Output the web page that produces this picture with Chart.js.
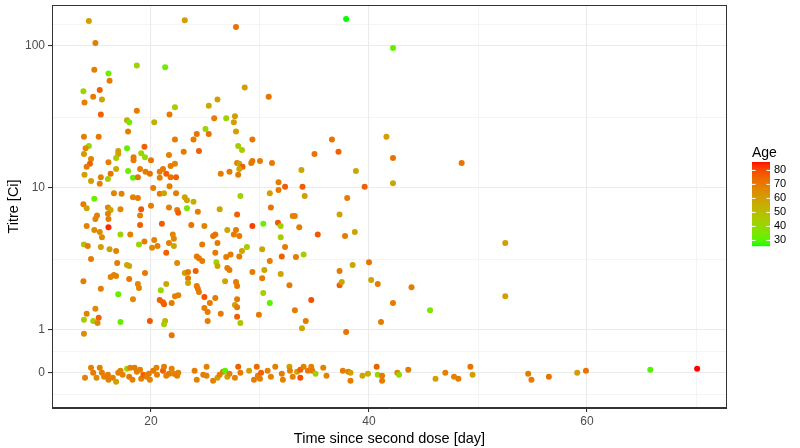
<!DOCTYPE html>
<html>
<head>
<meta charset="utf-8">
<script src="https://cdn.jsdelivr.net/npm/chart.js@4.4.1/dist/chart.umd.min.js"></script>
<style>
  html, body { margin: 0; padding: 0; background: #fff; }
  #wrap { width: 800px; height: 448px; }
</style>
</head>
<body>
<div id="wrap"><canvas id="c" width="800" height="448"></canvas></div>
<script>
// Titre vs days since second dose, points coloured by age

// samples with a measurable titre
const posDay = [
  14.3, 14.9, 23.1, 14.8, 16.1, 16.2, 18.7, 21.3, 13.8, 15.3, 14.7, 15.5, 13.9, 22.2, 15.4, 18.7, 21.7, 17.8, 18.0, 20.3, 17.9, 13.85, 15.2, 22.2,
  27.8, 28.6, 30.8, 25.3, 26.1, 25.8, 26.9, 27.7, 27.6, 27.8, 24.2, 25.0, 25.3, 29.3, 23.9,
  37.9, 42.2, 36.6, 41.6,
  14.3, 14.0, 17.8, 19.4, 17.0, 17.0, 13.85, 19.1, 19.45, 18.4, 18.4, 21.65, 23.0, 14.5, 20.0, 16.8, 16.1, 14.4, 14.1, 16.8,
  22.2, 21.8, 21.1, 20.8, 21.4, 17.9, 18.35, 18.8, 19.0, 19.5, 19.9, 16.3, 16.05, 15.4, 15.3, 14.5, 13.9, 20.8, 21.8, 22.3,
  20.2, 21.7, 22.3, 20.8, 21.2, 16.6, 17.3, 18.35, 18.8, 14.8, 13.8, 14.1, 16.05, 16.3, 16.05, 16.1, 17.2, 19.1, 20.0, 19.0,
  19.0, 21.65, 22.4, 22.5, 15.05, 14.9, 14.1, 14.8, 16.1, 17.2, 18.1, 15.3, 15.5, 21.0, 22.0, 22.1, 13.85, 14.2, 15.4, 18.9,
  19.4, 20.3, 20.6, 21.65,
  16.2, 16.8, 20.1, 21.4, 22.1, 14.5, 16.9, 17.8, 18.0, 19.45, 22.4, 23.1, 13.8, 16.3, 16.6, 16.8, 18.0, 18.8, 18.9, 15.4,
  20.9, 21.4, 17.0, 18.35, 20.8, 21.1, 21.2, 21.9, 22.2, 22.5, 14.9, 14.1, 13.85, 15.2, 14.7, 15.1, 17.2, 19.9, 21.3, 21.2,
  13.85, 21.9,
  24.4, 28.0, 28.35, 27.9, 28.1, 28.4, 28.1, 28.0, 26.4, 27.2, 29.2, 29.3, 30.0, 31.1, 35.0, 33.8, 31.7, 32.3, 33.9, 31.7,
  34.1, 30.9, 28.2, 23.1, 23.3, 23.3, 23.9, 24.3, 26.3, 27.9, 31.0, 33.0, 33.2, 23.7, 24.9, 29.3, 30.3, 31.65, 31.9, 33.6,
  27.0, 27.8, 27.6, 28.1, 25.9, 25.7, 31.9, 35.3, 24.7, 26.1, 28.8, 30.2, 32.3,
  25.9, 27.3, 28.1, 28.35, 34.0, 33.3, 32.0, 24.2, 24.4, 24.7, 26.0, 26.1, 26.9, 30.9, 23.4, 23.4, 23.4, 24.1, 27.0, 27.2,
  29.3, 30.4, 30.2, 31.9, 26.8, 27.8, 27.9, 32.7, 24.2, 24.3, 24.4, 30.3, 24.9, 25.9, 27.9, 25.4, 30.9, 34.7, 27.7, 27.9,
  24.9, 25.2, 26.4, 33.2, 27.9, 29.9, 34.2, 25.2, 28.2, 33.85,
  37.2, 42.2, 38.8, 42.2, 39.6, 38.0, 37.3, 37.8, 38.7,
  37.3, 38.5, 40.0, 37.3, 37.5, 40.2, 40.8, 43.9, 42.2, 45.6, 41.1, 37.9,
  48.5, 52.5, 52.5
];
const posTitre = [
  150, 105, 152, 68, 64, 57, 73, 71, 48, 49, 44, 42, 40, 37, 33, 35, 33, 30, 29, 29, 25, 23, 23, 22,
  136, 51, 44, 38, 42, 31, 31, 32, 29, 25, 24, 26, 24, 22, 22,
  155, 97, 22, 23,
  19.8, 19.1, 19.1, 19.5, 18.2, 17.4, 17.4, 17.6, 16.5, 16.5, 15.7, 17.1, 18.0, 16.0, 15.7, 16.3, 15.2, 14.8, 14.1, 13.6,
  14.8, 14.3, 13.6, 13.0, 12.6, 13.2, 11.8, 11.9, 13.6, 13.0, 12.6, 12.6, 11.6, 11.9, 10.7, 11.2, 12.4, 11.8, 11.9, 11.9,
  10.0, 10.3, 9.2, 9.1, 9.2, 9.2, 9.1, 8.6, 8.5, 8.4, 7.7, 7.2, 7.3, 7.0, 6.6, 6.05, 7.1, 7.1, 7.5, 6.4,
  5.5, 7.3, 7.0, 6.7, 6.4, 6.05, 5.4, 5.06, 5.3, 4.7, 4.7, 4.9, 4.5, 5.6, 4.7, 4.4, 4.0, 3.9, 3.85, 4.0,
  4.2, 4.3, 3.9, 4.1,
  3.7, 3.6, 3.8, 3.5, 3.9, 3.16, 2.97, 2.87, 2.83, 2.52, 2.97, 2.52, 2.21, 2.36, 2.44, 2.40, 2.29, 2.11, 1.98, 1.95,
  1.91, 2.11, 1.79, 1.65, 1.63, 1.57, 1.52, 1.55, 1.73, 1.76, 1.41, 1.30, 1.18, 1.22, 1.16, 1.12, 1.14, 1.16, 1.16, 1.10,
  0.94, 0.92,
  18.2, 19.8, 18.5, 15.0, 14.8, 14.1, 13.6, 12.4, 12.6, 13.0, 15.0, 15.5, 15.5, 15.0, 17.4, 13.4, 11.0, 10.2, 10.2, 9.7,
  8.8, 9.2, 8.8, 8.6, 8.2, 7.2, 8.0, 6.8, 7.1, 6.5, 7.3, 6.35, 6.35, 5.5, 5.4, 5.4, 5.6, 5.7, 5.4, 5.3,
  5.06, 5.06, 4.7, 4.6, 4.7, 4.6, 4.5, 4.7, 4.0, 4.1, 3.85, 3.7, 3.85,
  3.5, 3.4, 3.3, 3.6, 3.4, 3.27, 3.3, 3.3, 3.2, 3.06, 3.0, 2.83, 3.27, 3.06, 2.56, 2.32, 2.14, 2.6, 2.74, 2.65,
  2.56, 2.65, 2.32, 2.48, 2.21, 2.18, 2.04, 2.07, 2.04, 1.95, 1.85, 1.82, 1.71, 1.68, 1.65, 1.55, 1.55, 1.63, 1.50, 1.45,
  1.43, 1.34, 1.30, 1.38, 1.24, 1.28, 1.16, 1.16, 1.12, 1.03,
  18.0, 16.3, 13.2, 10.8, 10.2, 8.5, 6.5, 4.6, 4.9,
  2.6, 2.87, 3.0, 2.07, 2.18, 2.25, 2.11, 2.0, 1.55, 1.38, 1.14, 0.97,
  15.0, 4.1, 1.73
];
const posAge = [
  60, 69, 60, 69, 33, 70, 42, 33, 42, 76, 70, 58, 68, 44, 76, 70, 70, 58, 34, 55, 69, 69, 71, 70,
  72, 60, 72, 57, 60, 70, 42, 60, 60, 60, 72, 42, 72, 71, 70,
  26, 32, 72, 60,
  42, 66, 32, 76, 60, 60, 62, 42, 40, 70, 70, 68, 70, 68, 71, 45, 69, 76, 70, 55,
  67, 70, 70, 69, 76, 33, 32, 72, 69, 70, 72, 72, 45, 68, 68, 60, 60, 68, 72, 76,
  70, 69, 70, 70, 58, 68, 68, 68, 69, 33, 70, 58, 67, 58, 68, 69, 67, 78, 69, 68,
  76, 68, 70, 76, 68, 68, 68, 66, 84, 42, 68, 66, 66, 77, 67, 67, 50, 69, 60, 42,
  69, 68, 69, 68,
  60, 68, 66, 76, 58, 69, 69, 57, 57, 71, 66, 58, 69, 68, 68, 68, 71, 67, 67, 69,
  42, 58, 32, 66, 76, 76, 76, 69, 68, 68, 66, 68, 45, 76, 45, 67, 32, 78, 52, 45,
  66, 72,
  76, 45, 45, 70, 58, 76, 58, 70, 70, 70, 71, 71, 70, 70, 72, 58, 70, 77, 77, 70,
  60, 60, 42, 58, 58, 35, 55, 70, 58, 76, 72, 68, 68, 72, 68, 81, 33, 78, 45, 69,
  58, 70, 70, 70, 72, 72, 45, 78, 70, 70, 45, 58, 70,
  70, 70, 70, 58, 45, 70, 76, 70, 70, 70, 45, 58, 70, 70, 70, 70, 58, 76, 70, 70,
  70, 58, 70, 58, 58, 70, 70, 70, 70, 70, 70, 45, 79, 70, 70, 70, 30, 79, 58, 70,
  70, 70, 70, 70, 76, 70, 70, 70, 48, 58,
  76, 72, 58, 58, 76, 70, 58, 70, 58,
  70, 58, 72, 76, 58, 58, 70, 70, 70, 35, 70, 72,
  72, 60, 60
];

// samples below detection, drawn on the "0" row with a small vertical jitter
const zeroDay = [
  13.95, 14.5, 14.7, 15.0, 15.3, 15.5, 15.7, 16.1, 16.05, 16.5, 16.8, 17.0, 17.2, 17.4, 17.8, 18.0, 18.3, 18.1, 18.5, 18.7,
  19.0, 19.1, 19.3, 19.6, 19.8, 19.9, 20.2, 20.5, 20.55, 21.1, 21.2, 21.4, 21.65, 21.9, 22.1, 22.4, 22.5, 24.0, 24.2, 24.8,
  25.1, 25.1, 25.7, 26.1, 26.3, 26.6, 26.8, 27.0, 27.2, 27.7, 28.0, 28.2, 29.0, 29.45, 29.8,
  29.7, 30.0, 30.1, 30.7, 31.0, 31.4, 32.0, 32.1, 32.7, 32.75, 33.0, 33.4, 33.7, 33.7, 34.0, 34.4, 34.7, 34.8, 35.1, 35.8,
  36.1, 37.6, 38.1, 38.3, 38.3, 39.4, 39.9, 40.7, 40.8, 41.2, 41.2, 42.6, 42.75, 43.6, 46.1, 47.0, 47.8, 48.2,
  49.3, 49.5, 54.6, 54.9, 56.5, 59.1, 59.9, 65.8, 70.1
];
const zeroJit = [
  -0.035, 0.035, 0, -0.035, 0.035, 0, -0.028, -0.049, -0.014, -0.035, -0.063, 0, 0.014, -0.014, 0.028, -0.028, -0.049, 0.035, 0.035, 0.007,
  0.021, -0.042, -0.014, -0.028, -0.007, -0.049, 0.014, 0.035, -0.014, 0.014, 0.042, -0.021, -0.007, 0.028, -0.007, -0.021, 0, 0.014, -0.049, -0.014,
  0.042, -0.021, -0.056, -0.035, -0.014, 0.007, 0.014, -0.028, -0.007, -0.035, 0.042, 0, 0.014, -0.049, -0.021,
  0.042, -0.042, 0, 0.014, -0.028, 0.042, -0.007, -0.049, 0.042, 0.014, -0.028, 0.007, 0.021, -0.035, 0.042, 0.014, 0.042, 0.014, -0.007, 0.035,
  -0.021, 0.014, 0.007, 0, -0.056, -0.021, -0.007, 0.042, -0.014, -0.021, -0.056, 0, -0.014, 0.021, -0.042, 0, -0.028, -0.042,
  0.042, -0.014, -0.007, -0.049, -0.028, 0, 0.014, 0.021, 0.028
];
const zeroAge = [
  68, 68, 70, 66, 68, 70, 68, 68, 70, 68, 59, 70, 68, 68, 45, 70, 68, 68, 70, 68,
  68, 68, 76, 68, 70, 68, 70, 68, 68, 76, 70, 68, 70, 68, 68, 70, 68, 70, 68, 70,
  68, 68, 68, 59, 68, 68, 30, 59, 68, 68, 76, 70, 59, 70, 68,
  74, 70, 76, 68, 68, 68, 70, 68, 60, 68, 68, 60, 76, 79, 68, 70, 68, 70, 42, 68,
  68, 70, 70, 59, 70, 59, 55, 76, 42, 70, 70, 68, 42, 70, 60, 68, 68, 70,
  72, 60, 70, 70, 72, 60, 72, 30, 86
];

// axes
const xMajor = [20, 40, 60];
const xMinor = [30, 50, 70];
const yMajor = [0.5, 1, 10, 100];        // 0.5 is where the "0" row sits on the log axis
const yMajorLabels = ['0', '1', '10', '100'];
const legendAges = [30, 40, 50, 60, 70, 80];

const FONT = "'Liberation Sans', Arial, Helvetica, sans-serif";

// green -> red gradient interpolated in CIELAB, like ggplot's scale_colour_gradient
function lin(c) { c /= 255; return c <= 0.04045 ? c / 12.92 : Math.pow((c + 0.055) / 1.055, 2.4); }
function gam(c) {
  c = c <= 0.0031308 ? 12.92 * c : 1.055 * Math.pow(c, 1 / 2.4) - 0.055;
  return Math.round(Math.max(0, Math.min(1, c)) * 255);
}
function rgbToLab(rgb) {
  const r = lin(rgb[0]), g = lin(rgb[1]), b = lin(rgb[2]);
  const x = (0.4124 * r + 0.3576 * g + 0.1805 * b) / 0.95047;
  const y = 0.2126 * r + 0.7152 * g + 0.0722 * b;
  const z = (0.0193 * r + 0.1192 * g + 0.9505 * b) / 1.08883;
  const f = t => t > 0.008856 ? Math.cbrt(t) : 7.787 * t + 16 / 116;
  const fx = f(x), fy = f(y), fz = f(z);
  return [116 * fy - 16, 500 * (fx - fy), 200 * (fy - fz)];
}
function labToRgb(lab) {
  const fy = (lab[0] + 16) / 116, fx = fy + lab[1] / 500, fz = fy - lab[2] / 200;
  const inv = t => t * t * t > 0.008856 ? t * t * t : (t - 16 / 116) / 7.787;
  const x = inv(fx) * 0.95047, y = inv(fy), z = inv(fz) * 1.08883;
  const r = 3.2406 * x - 1.5372 * y - 0.4986 * z;
  const g = -0.9689 * x + 1.8758 * y + 0.0415 * z;
  const b = 0.0557 * x - 0.2040 * y + 1.0570 * z;
  return 'rgb(' + gam(r) + ',' + gam(g) + ',' + gam(b) + ')';
}
const LOW = rgbToLab([0, 255, 0]);
const HIGH = rgbToLab([255, 0, 0]);
const allAges = posAge.concat(zeroAge);
const ageMin = Math.min(...allAges);
const ageMax = Math.max(...allAges);
function ageColour(a) {
  const t = (a - ageMin) / (ageMax - ageMin);
  return labToRgb([0, 1, 2].map(k => LOW[k] + (HIGH[k] - LOW[k]) * t));
}

const points = [];
const colours = [];
posDay.forEach((d, i) => { points.push({ x: d, y: posTitre[i] }); colours.push(ageColour(posAge[i])); });
zeroDay.forEach((d, i) => { points.push({ x: d, y: 0.5 * Math.pow(10, zeroJit[i]) }); colours.push(ageColour(zeroAge[i])); });

const isMajorY = v => yMajor.some(m => Math.abs(Math.log10(v) - Math.log10(m)) < 1e-6);
const isMajorX = v => xMajor.includes(v);

// full panel border + colourbar legend
const panelAndLegend = {
  id: 'panelAndLegend',
  afterDatasetsDraw(chart) {
    const { ctx, chartArea: a } = chart;
    ctx.save();
    ctx.strokeStyle = '#333333';
    ctx.lineWidth = 1;
    ctx.strokeRect(a.left + 0.5, a.top + 0.5, a.right - a.left - 1, a.bottom - a.top - 1);
    ctx.restore();
  },
  afterDraw(chart) {
    const { ctx, chartArea: a } = chart;
    const x0 = a.right + 25, w = 18, top = 162, h = 84;
    ctx.save();
    for (let i = 0; i < h; i++) {
      ctx.fillStyle = ageColour(ageMax - (i + 0.5) / h * (ageMax - ageMin));
      ctx.fillRect(x0, top + i, w, 1.2);
    }
    ctx.strokeStyle = '#ffffff';
    ctx.lineWidth = 1;
    ctx.fillStyle = '#000000';
    ctx.font = '11px ' + FONT;
    ctx.textAlign = 'left';
    ctx.textBaseline = 'middle';
    legendAges.forEach(v => {
      const y = top + h - (v - ageMin) / (ageMax - ageMin) * h;
      ctx.beginPath();
      ctx.moveTo(x0, y); ctx.lineTo(x0 + 3.6, y);
      ctx.moveTo(x0 + w - 3.6, y); ctx.lineTo(x0 + w, y);
      ctx.stroke();
      ctx.fillText(String(v), x0 + w + 4, y);
    });
    ctx.font = '14px ' + FONT;
    ctx.textBaseline = 'alphabetic';
    ctx.fillText('Age', x0, top - 5);
    ctx.restore();
  }
};

new Chart(document.getElementById('c'), {
  type: 'scatter',
  data: {
    datasets: [{
      data: points,
      pointBackgroundColor: colours,
      pointBorderWidth: 0,
      pointRadius: 3,
      pointHoverRadius: 3
    }]
  },
  options: {
    responsive: false,
    animation: false,
    devicePixelRatio: 1,
    layout: { padding: { left: 0, right: 73, top: 5, bottom: 0 } },
    plugins: { legend: { display: false }, tooltip: { enabled: false } },
    scales: {
      x: {
        type: 'linear',
        min: 10.92,
        max: 72.84,
        afterBuildTicks: s => { s.ticks = xMajor.concat(xMinor).sort((p, q) => p - q).map(v => ({ value: v })); },
        afterFit: s => { s.height = 40; s.paddingLeft = 0; s.paddingRight = 0; },
        ticks: {
          autoSkip: false, maxRotation: 0, padding: 2,
          color: '#4D4D4D', font: { family: FONT, size: 12 },
          callback: v => isMajorX(v) ? String(v) : ''
        },
        grid: {
          color: '#EBEBEB',
          lineWidth: c => isMajorX(c.tick.value) ? 1.1 : 0.55,
          tickColor: c => isMajorX(c.tick.value) ? '#333333' : 'rgba(0,0,0,0)',
          tickLength: 4
        },
        border: { display: true, color: '#333333', width: 1 },
        title: {
          display: true, text: 'Time since second dose [day]', color: '#000000',
          font: { family: FONT, size: 14.5 }, padding: { top: 0, bottom: 0 }
        }
      },
      y: {
        type: 'logarithmic',
        min: 0.2825,
        max: 194.5,
        afterBuildTicks: s => {
          const minor = [0.5 / Math.SQRT2, Math.SQRT1_2, Math.sqrt(10), Math.sqrt(1000), 100 * Math.SQRT2];
          s.ticks = yMajor.concat(minor).sort((p, q) => p - q).map(v => ({ value: v }));
        },
        afterFit: s => { s.width = 52; s.paddingTop = 0; s.paddingBottom = 0; },
        ticks: {
          autoSkip: false, padding: 3,
          color: '#4D4D4D', font: { family: FONT, size: 12 },
          callback: v => {
            const i = yMajor.findIndex(m => Math.abs(Math.log10(v) - Math.log10(m)) < 1e-6);
            return i >= 0 ? yMajorLabels[i] : '';
          }
        },
        grid: {
          color: '#EBEBEB',
          lineWidth: c => isMajorY(c.tick.value) ? 1.1 : 0.55,
          tickColor: c => isMajorY(c.tick.value) ? '#333333' : 'rgba(0,0,0,0)',
          tickLength: 4
        },
        border: { display: true, color: '#333333', width: 1 },
        title: {
          display: true, text: 'Titre [Ci]', color: '#000000',
          font: { family: FONT, size: 14.5 }, padding: { top: 5, bottom: 0 }
        }
      }
    }
  },
  plugins: [panelAndLegend]
});
</script>
</body>
</html>
